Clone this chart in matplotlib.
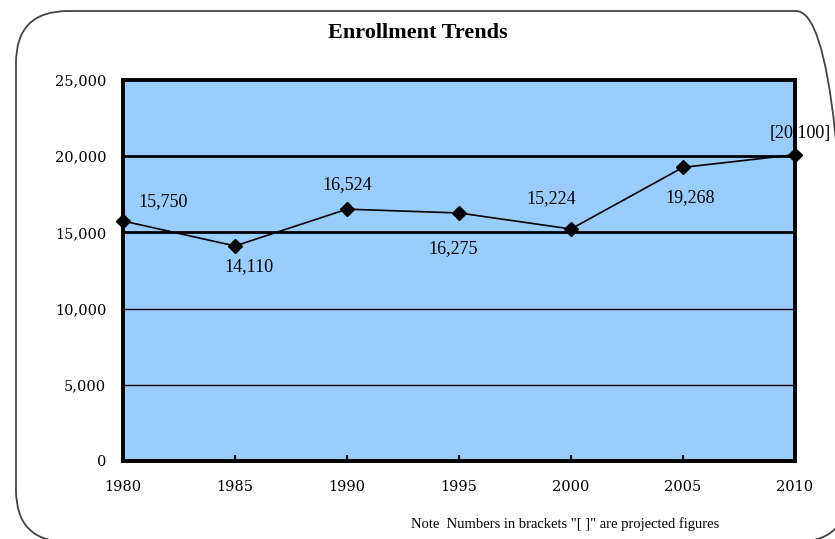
import matplotlib
matplotlib.use("Agg")
import matplotlib.pyplot as plt
from matplotlib.patches import FancyBboxPatch
from matplotlib.transforms import IdentityTransform

years = [1980, 1985, 1990, 1995, 2000, 2005, 2010]
enrollment = [15750, 14110, 16524, 16275, 15224, 19268, 20100]
labels = ["15,750", "14,110", "16,524", "16,275", "15,224", "19,268", "[20,100]"]
yticks = [0, 5000, 10000, 15000, 20000, 25000]
ytick_labels = ["0", "5,000", "10,000", "15,000", "20,000", "25,000"]
title = "Enrollment Trends"
note = 'Note  Numbers in brackets "[ ]" are projected figures'

plt.rcParams['font.family'] = ['Liberation Serif', 'DejaVu Serif']

fig = plt.figure(figsize=(8.35, 5.39), dpi=100)
fig.patch.set_facecolor('white')

# rounded outer frame (display pixels)
box = FancyBboxPatch((16, -3), 832, 531, boxstyle="round,pad=0,rounding_size=52",
                     transform=IdentityTransform(), facecolor='none',
                     edgecolor='#444444', linewidth=1.3)
fig.patches.append(box)

ax = fig.add_axes([123/835, 78/539, (795-123)/835, (461-80)/539])
ax.set_facecolor('#99ccff')
ax.set_xlim(1980, 2010)
ax.set_ylim(0, 25000)

for v in yticks[1:-1]:
    lw = 2.0 if v >= 15000 else 1.0
    ax.axhline(v, color='black', linewidth=lw, zorder=1)

ax.plot(years, enrollment, color='black', linewidth=1.2, marker='D',
        markersize=7, clip_on=False, zorder=4)

for s in ax.spines.values():
    s.set_linewidth(2.8)
    s.set_zorder(5)

ax.set_yticks(yticks)
ax.set_yticklabels(ytick_labels, family='DejaVu Serif')
ax.set_xticks(years)
ax.set_xticklabels([str(y) for y in years], family='DejaVu Serif')
ax.tick_params(axis='y', length=0, pad=12, labelsize=10.5)
ax.tick_params(axis='x', direction='in', length=4, width=1.5, pad=14, labelsize=10.5)

# data labels: offsets in points
offsets = [(29, 14), (10, -15), (0, 18), (-4, -26), (-14, 22), (5, -22), (4, 15)]
for x, y, t, (dx, dy) in zip(years, enrollment, labels, offsets):
    ax.annotate(t, (x, y), xytext=(dx, dy), textcoords='offset points',
                ha='center', va='center', fontsize=13, annotation_clip=False,
                zorder=3 if x != 2010 else 1)

fig.text(0.5, 1 - 33/539, title, ha='center', va='center', fontsize=16, fontweight='bold')
fig.text(565/835, 1 - 524/539, note, ha='center', va='center', fontsize=10.5)

fig.savefig("out.png", dpi=100)
